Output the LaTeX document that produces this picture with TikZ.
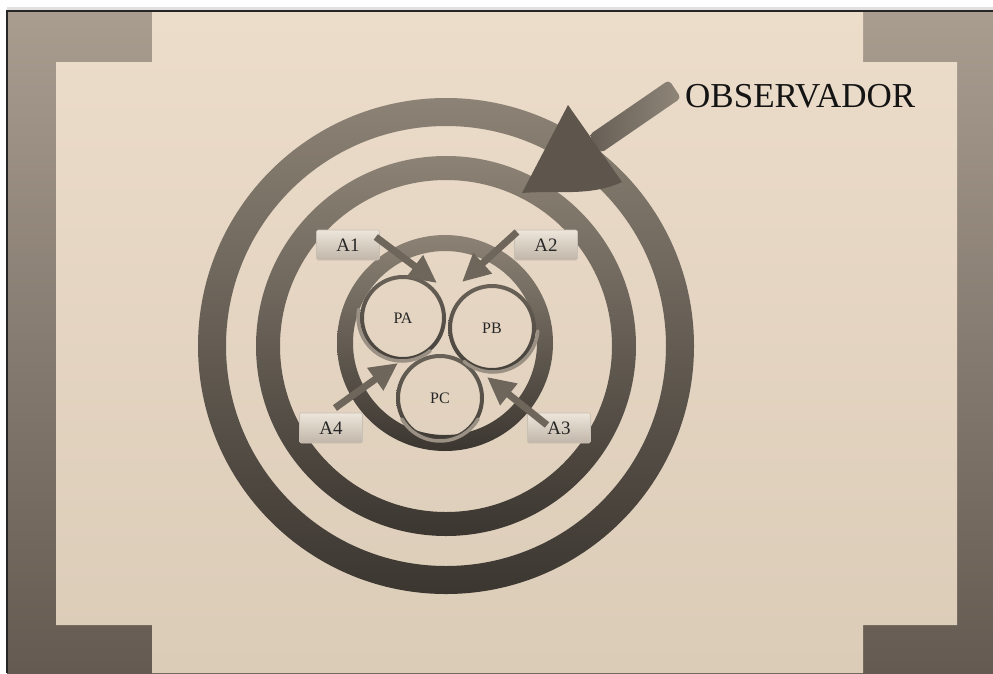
\documentclass[tikz,border=0pt]{standalone}
\usepackage{fontspec}
\setmainfont{Liberation Serif}
\usetikzlibrary{arrows.meta,calc}
\definecolor{framelight}{HTML}{A99D90}
\definecolor{framedark}{HTML}{645A51}
\definecolor{beigelight}{HTML}{ECDCCA}
\definecolor{beigedark}{HTML}{DBCCB8}
\definecolor{ringlight}{HTML}{8C8275}
\definecolor{ringdark}{HTML}{3B3630}
\definecolor{arrowcol}{HTML}{6E655B}
\definecolor{headcol}{HTML}{5E554C}
\definecolor{boxlight}{HTML}{EEE6DB}
\definecolor{boxdark}{HTML}{C0B5A8}
\definecolor{curlcol}{HTML}{9A9083}
\tikzset{
  ringshade/.style={even odd rule, top color=ringlight, bottom color=ringdark, draw=none},
  pshade/.style={even odd rule, top color=ringlight!75!black, bottom color=ringdark!95!white, draw=none},
  pcirc/.style={circle, inner sep=0pt, minimum size=86pt, font=\fontsize{16}{16}\selectfont, text=black!85},
  abox/.style={rectangle, rounded corners=1.5pt, minimum width=63pt, minimum height=30pt, inner sep=0pt,
    top color=boxlight, bottom color=boxdark, draw=boxdark!85!white, line width=0.6pt,
    font=\fontsize{19}{19}\selectfont, text=black!85},
  smallarrow/.style={draw=arrowcol, line width=7pt, -{Triangle[length=28pt,width=26pt]}},
  curl/.style={draw=curlcol, line width=3.5pt, line cap=round}
}
\begin{document}
\begin{tikzpicture}[x=1pt,y=-1pt]
\useasboundingbox (0,0) rectangle (993,673);
\fill[white] (0,0) rectangle (993,673);
\fill[black!12] (7,7) rectangle (993,11);
% frame
\path[top color=framelight, bottom color=framedark] (7,11) rectangle (993,673);
\path[top color=beigelight, bottom color=beigedark]
  (152,11) -- (863,11) -- (863,62) -- (957,62) -- (957,625) -- (863,625) -- (863,673)
  -- (152,673) -- (152,625) -- (56,625) -- (56,62) -- (152,62) -- cycle;
\draw[line width=2.5pt, black!85] (7,673) -- (7,11) -- (993,11);
% rings
\coordinate (C) at (446,346);
\coordinate (Ci) at (445,343);
\path[ringshade] (C) circle (248) (C) circle (220);
\path[ringshade] (C) circle (190) (C) circle (166);
\path[ringshade] (Ci) circle (108) (Ci) circle (92);
% small circles
\node[pcirc] (PA) at (403,318) {PA};
\node[pcirc] (PB) at (492,328) {PB};
\node[pcirc] (PC) at (440,398) {PC};
\path[pshade] (PA.center) circle (43) (PA.center) circle (39);
\path[pshade] (PB.center) circle (44) (PB.center) circle (40);
\path[pshade] (PC.center) circle (44) (PC.center) circle (40);
\draw[curl] ([shift={(-1,-1)}]PA.center) ++(50:44) arc[start angle=50, end angle=190, radius=44];
\draw[curl] ([shift={(1,-1)}]PB.center) ++(130:45) arc[start angle=130, end angle=5, radius=45];
\draw[curl] ([shift={(0,-1)}]PC.center) ++(150:44) arc[start angle=150, end angle=30, radius=44];
% label boxes
\node[abox] (A1) at (348,245) {A1};
\node[abox] (A2) at (546,245) {A2};
\node[abox] (A3) at (559,428) {A3};
\node[abox] (A4) at (331,428) {A4};
% small arrows
\coordinate (t1) at (437,283);
\coordinate (t2) at (462,282);
\coordinate (t3) at (487,377);
\coordinate (t4) at (398,363);
\draw[smallarrow] ([shift={(-4,-8)}]A1.east) -- (t1);
\draw[smallarrow] ([shift={(-29,-13)}]A2.center) -- (t2);
\draw[smallarrow] ([shift={(-12,-3)}]A3.center) -- (t3);
\draw[smallarrow] ([shift={(4,-20)}]A4.center) -- (t4);
% big arrow
\node[anchor=base west, inner sep=0pt, font=\fontsize{35}{35}\selectfont, text=black!92] (OBS) at (685,107) {OBSERVADOR};
\coordinate (bt1) at (681,98);
\coordinate (bt2) at (669,80);
\coordinate (bb1) at (601,153);
\coordinate (bb2) at (589,135);
\coordinate (btip) at (522,193);
\coordinate (bh1) at (568,105);
\coordinate (bh2) at (622,182);
\path[left color=headcol!95!white, right color=ringlight!97!white, rounded corners=4pt]
  (bb1) -- (bt1) -- (bt2) -- (bb2) -- cycle;
\fill[headcol] (btip) -- (bh1) -- (bh2) .. controls (590,197) and (555,190) .. (btip) -- cycle;
\end{tikzpicture}
\end{document}
